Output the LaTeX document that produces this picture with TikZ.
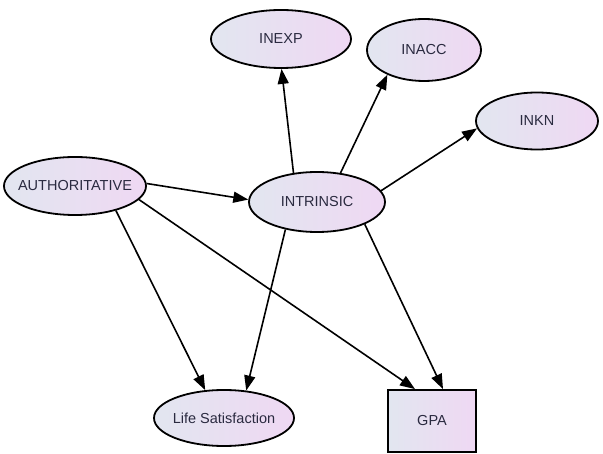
\documentclass[tikz,border=0pt]{standalone}
\usepackage{fontspec}
\setmainfont{Liberation Sans}
\usetikzlibrary{shapes.geometric,arrows.meta,calc}
\definecolor{fillL}{HTML}{E2E6F0}
\definecolor{fillR}{HTML}{EFD8F3}
\definecolor{txt}{HTML}{2A2A40}
\newcommand{\lbl}[1]{\makebox[0pt][c]{#1}}
\tikzset{
  var/.style={ellipse, draw=black, line width=1.8pt, left color=fillL, right color=fillR,
    inner sep=0pt, text=txt, font=\fontsize{14.5}{17}\selectfont},
  boxvar/.style={rectangle, draw=black, line width=1.8pt, left color=fillL, right color=fillR,
    inner sep=0pt, text=txt, font=\fontsize{14.5}{17}\selectfont},
  link/.style={line width=1.6pt, draw=black, -{Triangle[length=15pt,width=11pt]}}
}
\begin{document}
\begin{tikzpicture}[x=1pt,y=-1pt]
\useasboundingbox (0,0) rectangle (603,454);
\node[var, minimum width=140pt, minimum height=58pt] (inexp) at (281,39) {\lbl{INEXP}};
\node[var, minimum width=114pt, minimum height=62pt] (inacc) at (424,50) {\lbl{INACC}};
\node[var, minimum width=122pt, minimum height=57pt] (inkn) at (537,121) {\lbl{INKN}};
\node[var, minimum width=142pt, minimum height=58pt] (auth) at (75,186) {\lbl{AUTHORITATIVE}};
\node[var, minimum width=136pt, minimum height=60pt] (intr) at (317,202) {\lbl{INTRINSIC}};
\node[var, minimum width=140pt, minimum height=56pt] (life) at (224,418) {\lbl{Life Satisfaction}};
\node[boxvar, minimum width=88pt, minimum height=62pt] (gpa) at (432,421) {\lbl{GPA}};
\coordinate (gpaA) at ($(gpa.north)+(-17,0)$);
\coordinate (gpaB) at ($(gpa.north)+(11,0)$);
\draw[link] (intr.129) -- (inexp.271);
\draw[link] (intr.51) -- (inacc.214);
\draw[link] (intr.10) -- (inkn.187);
\draw[link] (intr.221) -- (life.51);
\draw[link] (intr.335) -- (gpaB);
\draw[link] (auth.2) -- (intr.178);
\draw[link] (auth.329) -- (life.124);
\draw[link] (auth.348) -- (gpaA);
\end{tikzpicture}
\end{document}
